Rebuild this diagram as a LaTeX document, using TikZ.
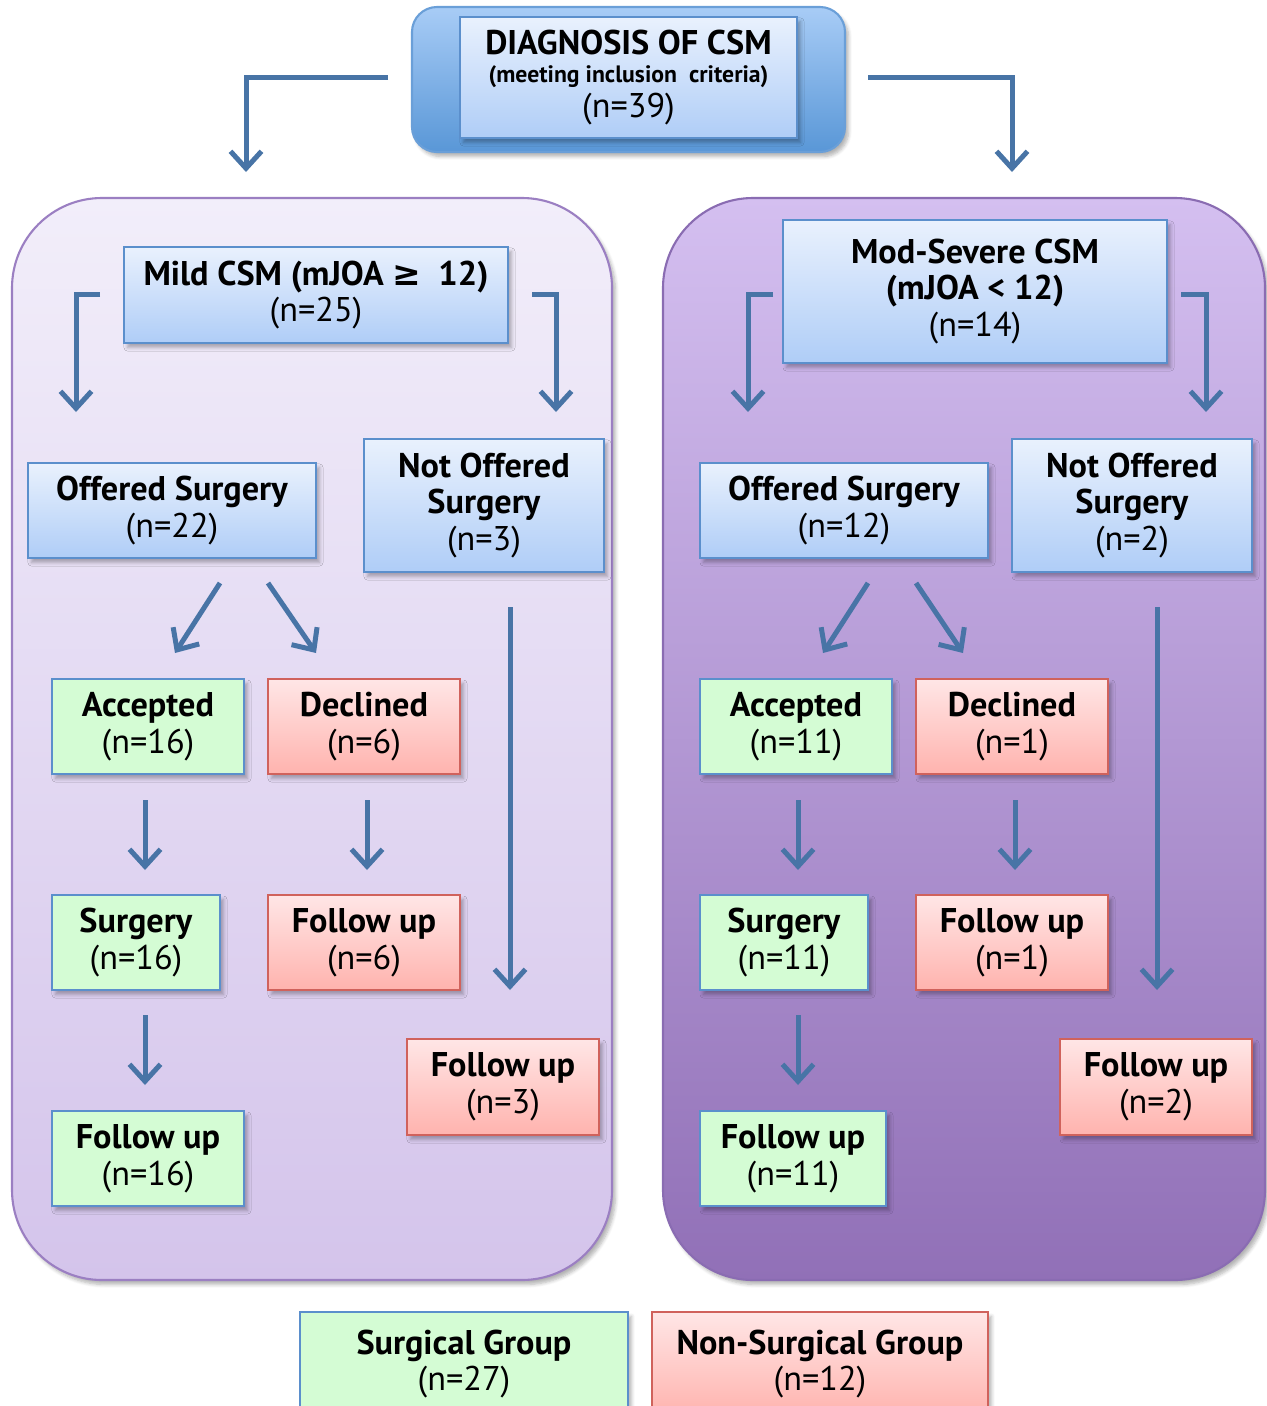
\documentclass[tikz,border=0pt]{standalone}
\usepackage{fontspec}
\setmainfont{PT Sans}
\newfontfamily\symfont{DejaVu Sans}
\usepackage{xcolor}
\usetikzlibrary{arrows.meta,shadows.blur}

\definecolor{arrowblue}{RGB}{72,116,166}
\definecolor{boxblue}{RGB}{91,143,204}
\definecolor{blutop}{RGB}{233,241,253}
\definecolor{blubot}{RGB}{175,205,247}
\definecolor{grnfill}{RGB}{212,252,212}
\definecolor{boxred}{RGB}{208,98,92}
\definecolor{redtop}{RGB}{255,230,230}
\definecolor{redbot}{RGB}{255,179,174}
\definecolor{diagline}{RGB}{106,159,216}
\definecolor{diagtop}{RGB}{168,204,246}
\definecolor{diagbot}{RGB}{89,151,215}
\definecolor{lpline}{RGB}{155,127,194}
\definecolor{lptop}{RGB}{242,238,250}
\definecolor{lpbot}{RGB}{212,196,235}
\definecolor{rpline}{RGB}{138,108,178}
\definecolor{rptop}{RGB}{212,191,240}
\definecolor{rpbot}{RGB}{145,112,183}

\tikzset{
  sz/.style 2 args={minimum width=#1*0.02cm,minimum height=#2*0.02cm},
  boxshadow/.style={blur shadow={shadow xshift=0.07cm,shadow yshift=-0.09cm,shadow opacity=30,shadow blur steps=6}},
  box/.style={rectangle,align=center,inner sep=2pt,line width=1.4pt,boxshadow,font=\fontsize{19.5}{21}\selectfont},
  blubox/.style={box,draw=boxblue,top color=blutop,bottom color=blubot},
  grnbox/.style={box,draw=boxblue,fill=grnfill},
  redbox/.style={box,draw=boxred,top color=redtop,bottom color=redbot},
  panel/.style={rectangle,rounded corners=1.8cm,line width=1.2pt,boxshadow},
  flow/.style={draw=arrowblue,line width=0.1cm,-{Straight Barb[length=0.34cm,width=0.62cm]}}
}

\begin{document}
\begin{tikzpicture}[x=0.02cm,y=-0.02cm]
\useasboundingbox (0,0) rectangle (1267,1406);

\node[panel,sz={600}{1082},draw=lpline,top color=lptop,bottom color=lpbot] (lpanel) at (312,739) {};
\node[panel,sz={602}{1082},draw=rpline,top color=rptop,bottom color=rpbot] (rpanel) at (964,739) {};

\node[rectangle,rounded corners=0.5cm,sz={433}{145},line width=1.2pt,boxshadow,draw=diagline,top color=diagtop,bottom color=diagbot] (diag) at (628.5,79.5) {};
\node[blubox,sz={337}{121}] (diagin) at (628.5,77.5) {\textbf{DIAGNOSIS OF CSM}\\[-5pt]{\fontsize{13.5}{15}\selectfont\bfseries (meeting inclusion\ \ criteria)}\\[-1pt](n=39)};

\node[blubox,sz={384}{96}] (mild) at (316,295) {\textbf{Mild CSM (mJOA {\symfont ≥}\ \ 12)}\\(n=25)};
\node[blubox,sz={288}{95}] (lofs) at (172,510.5) {\textbf{Offered Surgery}\\(n=22)};
\node[blubox,sz={240}{133}] (lnot) at (484,505.5) {\textbf{Not Offered}\\\textbf{Surgery}\\(n=3)};
\node[grnbox,sz={192}{95}] (lacc) at (148,726.5) {\textbf{Accepted}\\(n=16)};
\node[redbox,sz={192}{95}] (ldec) at (364,726.5) {\textbf{Declined}\\(n=6)};
\node[grnbox,sz={168}{95}] (lsur) at (136,942.5) {\textbf{Surgery}\\(n=16)};
\node[redbox,sz={192}{95}] (lfud) at (364,942.5) {\textbf{Follow up}\\(n=6)};
\node[redbox,sz={192}{96}] (lfun) at (503,1087) {\textbf{Follow up}\\(n=3)};
\node[grnbox,sz={192}{95}] (lfus) at (148,1158.5) {\textbf{Follow up}\\(n=16)};

\node[blubox,sz={384}{143}] (sev) at (975,291.5) {\textbf{Mod-Severe CSM}\\\textbf{(mJOA < 12)}\\(n=14)};
\node[blubox,sz={288}{95}] (rofs) at (844,510.5) {\textbf{Offered Surgery}\\(n=12)};
\node[blubox,sz={240}{133}] (rnot) at (1132,505.5) {\textbf{Not Offered}\\\textbf{Surgery}\\(n=2)};
\node[grnbox,sz={192}{95}] (racc) at (796,726.5) {\textbf{Accepted}\\(n=11)};
\node[redbox,sz={192}{95}] (rdec) at (1012,726.5) {\textbf{Declined}\\(n=1)};
\node[grnbox,sz={168}{95}] (rsur) at (784,942.5) {\textbf{Surgery}\\(n=11)};
\node[redbox,sz={192}{95}] (rfud) at (1012,942.5) {\textbf{Follow up}\\(n=1)};
\node[redbox,sz={192}{96}] (rfun) at (1156,1087) {\textbf{Follow up}\\(n=2)};
\node[grnbox,sz={186}{95}] (rfus) at (793,1158.5) {\textbf{Follow up}\\(n=11)};

\node[grnbox,sz={328}{104}] (sgrp) at (464,1364) {\textbf{Surgical Group}\\(n=27)};
\node[redbox,sz={336}{104}] (ngrp) at (820,1364) {\textbf{Non-Surgical Group}\\(n=12)};

\coordinate (d1) at (388,78);  \coordinate (d2) at (246,172);
\coordinate (d3) at (868,78);  \coordinate (d4) at (1012,172);
\coordinate (m1) at (100,294); \coordinate (m2) at (76,412);
\coordinate (m3) at (532,294); \coordinate (m4) at (556,412);
\coordinate (s1) at (773,294); \coordinate (s2) at (748,412);
\coordinate (s3) at (1181,294); \coordinate (s4) at (1206,412);
\coordinate (o1) at (220,583); \coordinate (o2) at (175,653);
\coordinate (o3) at (268,583); \coordinate (o4) at (316,653);
\coordinate (o5) at (868,583); \coordinate (o6) at (823,653);
\coordinate (o7) at (916,583); \coordinate (o8) at (963,653);
\coordinate (a1) at (145,800); \coordinate (a2) at (145,870);
\coordinate (a3) at (367,800); \coordinate (a4) at (367,870);
\coordinate (a5) at (798,800); \coordinate (a6) at (798,870);
\coordinate (a7) at (1015,800); \coordinate (a8) at (1015,870);
\coordinate (n1) at (510,607); \coordinate (n2) at (510,990);
\coordinate (n3) at (1157,607); \coordinate (n4) at (1157,990);
\coordinate (f1) at (145,1015); \coordinate (f2) at (145,1085);
\coordinate (f3) at (798,1015); \coordinate (f4) at (798,1085);

\draw[flow] (d1) -| (d2);
\draw[flow] (d3) -| (d4);
\draw[flow] (m1) -| (m2);
\draw[flow] (m3) -| (m4);
\draw[flow] (s1) -| (s2);
\draw[flow] (s3) -| (s4);
\draw[flow] (o1) -- (o2);
\draw[flow] (o3) -- (o4);
\draw[flow] (o5) -- (o6);
\draw[flow] (o7) -- (o8);
\draw[flow] (a1) -- (a2);
\draw[flow] (a3) -- (a4);
\draw[flow] (a5) -- (a6);
\draw[flow] (a7) -- (a8);
\draw[flow] (n1) -- (n2);
\draw[flow] (n3) -- (n4);
\draw[flow] (f1) -- (f2);
\draw[flow] (f3) -- (f4);
\end{tikzpicture}
\end{document}
